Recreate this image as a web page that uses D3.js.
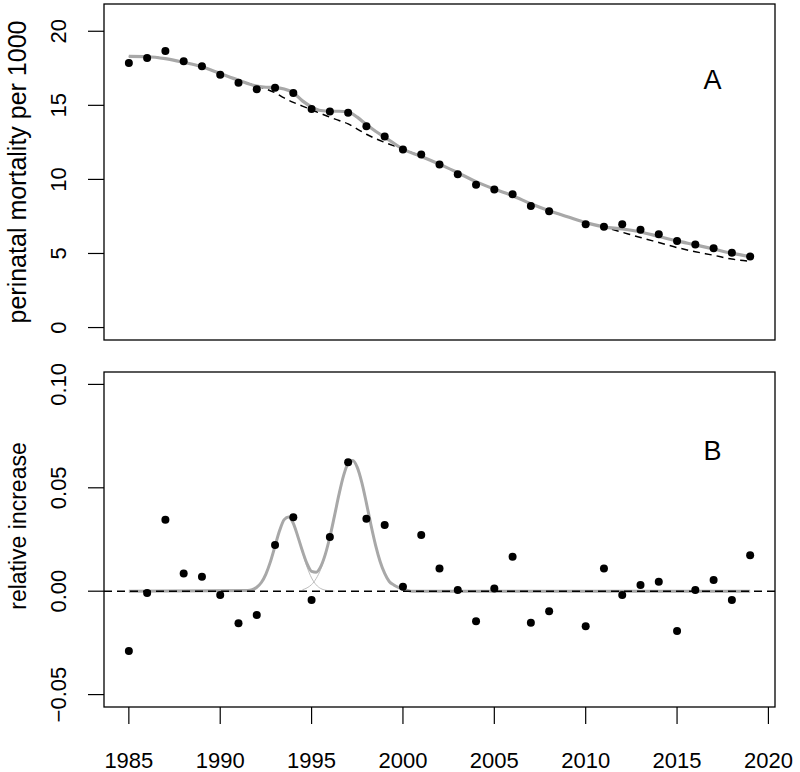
<!DOCTYPE html>
<html>
<head>
<meta charset="utf-8">
<script src="https://cdn.jsdelivr.net/npm/d3@7"></script>
<style>
  body { margin: 0; background: #fff; }
  svg { display: block; font-family: "Liberation Sans", Arial, sans-serif; }
</style>
</head>
<body>
<svg width="800" height="772"></svg>
<script>
// observed data (2009 missing)
var years = [1985,1986,1987,1988,1989,1990,1991,1992,1993,1994,1995,1996,1997,1998,1999,2000,
             2001,2002,2003,2004,2005,2006,2007,2008,2010,2011,2012,2013,2014,2015,2016,2017,2018,2019];
var mortality = [17.86,18.2,18.67,17.98,17.64,17.07,16.53,16.08,16.19,15.83,14.75,14.59,14.5,13.58,12.9,12.02,
                 11.68,11.01,10.35,9.64,9.32,9.0,8.21,7.85,6.97,6.81,6.97,6.61,6.29,5.84,5.6,5.36,5.05,4.8];
var relIncrease = [-0.0289,-0.0009,0.0346,0.0086,0.007,-0.0018,-0.0155,-0.0115,0.0224,0.0358,-0.0042,0.0262,0.0623,0.035,0.032,0.0022,
                   0.0272,0.011,0.0006,-0.0145,0.0013,0.0167,-0.0153,-0.0097,-0.0169,0.011,-0.0018,0.003,0.0046,-0.0193,0.0006,0.0054,-0.0042,0.0174];

// fitted curve (grey) and baseline (dashed), panel A
var curveYears = [1985,1986,1987,1988,1989,1990,1991,1992,1992.5,1993,1993.5,1994,1994.5,1995,1995.5,1996,1996.5,1997,1997.5,1998,1998.5,1999,
                  2000,2001,2002,2003,2004,2005,2006,2007,2008,2009,2010,2011,2012,2013,2014,2015,2016,2017,2018,2019];
var fitValues = [18.3,18.28,18.15,17.9,17.6,17.15,16.7,16.3,16.22,16.2,16.1,15.85,15.3,14.9,14.65,14.6,14.6,14.55,14.2,13.7,13.25,12.86,
                 12.04,11.55,11.03,10.45,9.85,9.35,8.9,8.35,7.88,7.48,7.08,6.8,6.65,6.45,6.15,5.85,5.58,5.3,5.02,4.78];
var baseValues = [18.3,18.28,18.15,17.9,17.6,17.15,16.7,16.3,16.1,15.85,15.5,15.2,14.95,14.7,14.45,14.2,13.98,13.75,13.4,13.05,12.75,12.5,
                  12.04,11.55,11.03,10.45,9.85,9.35,8.9,8.35,7.88,7.48,7.08,6.78,6.43,6.08,5.74,5.4,5.12,4.88,4.62,4.47];

// excess components, panel B
var bump1Years = [1991.5,1991.75,1992,1992.25,1992.5,1992.75,1993,1993.25,1993.5,1993.75,1994,1994.25,1994.5,1994.75,1995,1995.25,1995.5,1995.75,1996,1996.25];
var bump1Values = [0.0003,0.0007,0.0019,0.0042,0.0083,0.0143,0.0218,0.0293,0.0346,0.0359,0.0328,0.0264,0.0187,0.0117,0.0064,0.0031,0.0013,0.0005,0.0002,0];
var bump2Years = [1994.5,1994.75,1995,1995.25,1995.5,1995.75,1996,1996.25,1996.5,1996.75,1997,1997.25,1997.5,1997.75,1998,1998.25,1998.5,1998.75,1999,1999.25,1999.5,1999.75,2000,2000.25,2000.5];
var bump2Values = [0.0007,0.0016,0.0032,0.0061,0.0106,0.0173,0.026,0.0363,0.0468,0.0559,0.0618,0.0632,0.0599,0.0525,0.0426,0.032,0.0223,0.0144,0.0086,0.0047,0.003,0.0018,0.001,0.0004,0];
var totalYears = [1985,1991.5,1991.75,1992,1992.25,1992.5,1992.75,1993,1993.25,1993.5,1993.75,1994,1994.25,1994.5,1994.75,1995,1995.25,1995.5,1995.75,
                  1996,1996.25,1996.5,1996.75,1997,1997.25,1997.5,1997.75,1998,1998.25,1998.5,1998.75,1999,1999.25,1999.5,1999.75,2000,2000.25,2000.5,2019];
var totalValues = [0,0.0003,0.0007,0.0019,0.0042,0.0083,0.0143,0.0218,0.0293,0.0346,0.0359,0.0328,0.0264,0.0194,0.0133,0.0096,0.0092,0.0119,0.0178,
                   0.0262,0.0363,0.0468,0.0559,0.0618,0.0632,0.0599,0.0525,0.0426,0.032,0.0223,0.0144,0.0086,0.0047,0.003,0.0018,0.001,0.0004,0,0];

var xTicks = [1985,1990,1995,2000,2005,2010,2015,2020];
var yTicksA = [0,5,10,15,20];
var yTicksB = [-0.05,0.00,0.05,0.10];

var left = 104, right = 775;
var panelA = {top: 4, bottom: 340, labelY: 172, labelSize: 25};
var panelB = {top: 372, bottom: 707, labelY: 526, labelSize: 23};
var tickLen = 16;

// R style 4% padding of the axis ranges
function pad(lo, hi) { var d = (hi - lo) * 0.04; return [lo - d, hi + d]; }

var svg = d3.select("svg");

var x = d3.scaleLinear().domain(pad(1985, 2019)).range([left, right]);
var yA = d3.scaleLinear().domain(pad(0, 21)).range([panelA.bottom, panelA.top]);
var yB = d3.scaleLinear().domain(pad(-0.05, 0.1)).range([panelB.bottom, panelB.top]);

function yAxisLeft(scale, ticks, fmt, title, panel) {
  var g = svg.append("g").attr("transform", "translate(" + left + ",0)");
  g.selectAll("line.tick").data(ticks).enter().append("line")
    .attr("x1", 0).attr("x2", -tickLen)
    .attr("y1", function(d) { return scale(d); })
    .attr("y2", function(d) { return scale(d); })
    .attr("stroke", "#000").attr("stroke-width", 1.2);
  g.selectAll("text").data(ticks).enter().append("text")
    .attr("transform", function(d) { return "translate(" + (65.5 - left) + "," + scale(d) + ") rotate(-90)"; })
    .attr("text-anchor", "middle")
    .style("font-size", "22px")
    .text(fmt);
  svg.append("text")
    .attr("transform", "translate(26," + panel.labelY + ") rotate(-90)")
    .attr("text-anchor", "middle")
    .style("font-size", panel.labelSize + "px")
    .text(title);
}

function frame(panel) {
  svg.append("rect")
    .attr("x", left).attr("y", panel.top)
    .attr("width", right - left).attr("height", panel.bottom - panel.top)
    .attr("fill", "none").attr("stroke", "#000").attr("stroke-width", 1.3);
}

var line = d3.line().curve(d3.curveMonotoneX);

// ---- panel A
yAxisLeft(yA, yTicksA, function(d) { return d; }, "perinatal mortality per 1000", panelA);

svg.append("path")
  .attr("d", line(curveYears.map(function(t, i) { return [x(t), yA(baseValues[i])]; })))
  .attr("fill", "none").attr("stroke", "#000").attr("stroke-width", 1.5)
  .attr("stroke-dasharray", "7,5");

svg.append("path")
  .attr("d", line(curveYears.map(function(t, i) { return [x(t), yA(fitValues[i])]; })))
  .attr("fill", "none").attr("stroke", "#a8a8a8").attr("stroke-width", 3.2);

svg.append("g").selectAll("circle").data(years).enter().append("circle")
  .attr("cx", function(d) { return x(d); })
  .attr("cy", function(d, i) { return yA(mortality[i]); })
  .attr("r", 4).attr("fill", "#000");

svg.append("text").attr("x", 712.5).attr("y", 88.5)
  .attr("text-anchor", "middle").style("font-size", "27px").text("A");

frame(panelA);

// ---- panel B
yAxisLeft(yB, yTicksB, d3.format(".2f"), "relative increase", panelB);

svg.append("path")
  .attr("d", line(bump1Years.map(function(t, i) { return [x(t), yB(bump1Values[i])]; })))
  .attr("fill", "none").attr("stroke", "#bdbdbd").attr("stroke-width", 1);
svg.append("path")
  .attr("d", line(bump2Years.map(function(t, i) { return [x(t), yB(bump2Values[i])]; })))
  .attr("fill", "none").attr("stroke", "#bdbdbd").attr("stroke-width", 1);
svg.append("path")
  .attr("d", line(totalYears.map(function(t, i) { return [x(t), yB(totalValues[i])]; })))
  .attr("fill", "none").attr("stroke", "#a8a8a8").attr("stroke-width", 3);

svg.append("line")
  .attr("x1", left).attr("x2", right)
  .attr("y1", yB(0)).attr("y2", yB(0))
  .attr("stroke", "#000").attr("stroke-width", 1.5).attr("stroke-dasharray", "8,5");

svg.append("g").selectAll("circle").data(years).enter().append("circle")
  .attr("cx", function(d) { return x(d); })
  .attr("cy", function(d, i) { return yB(relIncrease[i]); })
  .attr("r", 4).attr("fill", "#000");

svg.append("text").attr("x", 712.5).attr("y", 459.5)
  .attr("text-anchor", "middle").style("font-size", "27px").text("B");

frame(panelB);

// x axis below panel B
var gx = svg.append("g");
gx.selectAll("line").data(xTicks).enter().append("line")
  .attr("x1", function(d) { return x(d); }).attr("x2", function(d) { return x(d); })
  .attr("y1", panelB.bottom).attr("y2", panelB.bottom + tickLen + 1)
  .attr("stroke", "#000").attr("stroke-width", 1.2);
gx.selectAll("text").data(xTicks).enter().append("text")
  .attr("x", function(d) { return x(d); }).attr("y", 768)
  .attr("text-anchor", "middle").style("font-size", "22px")
  .text(function(d) { return d; });
</script>
</body>
</html>
